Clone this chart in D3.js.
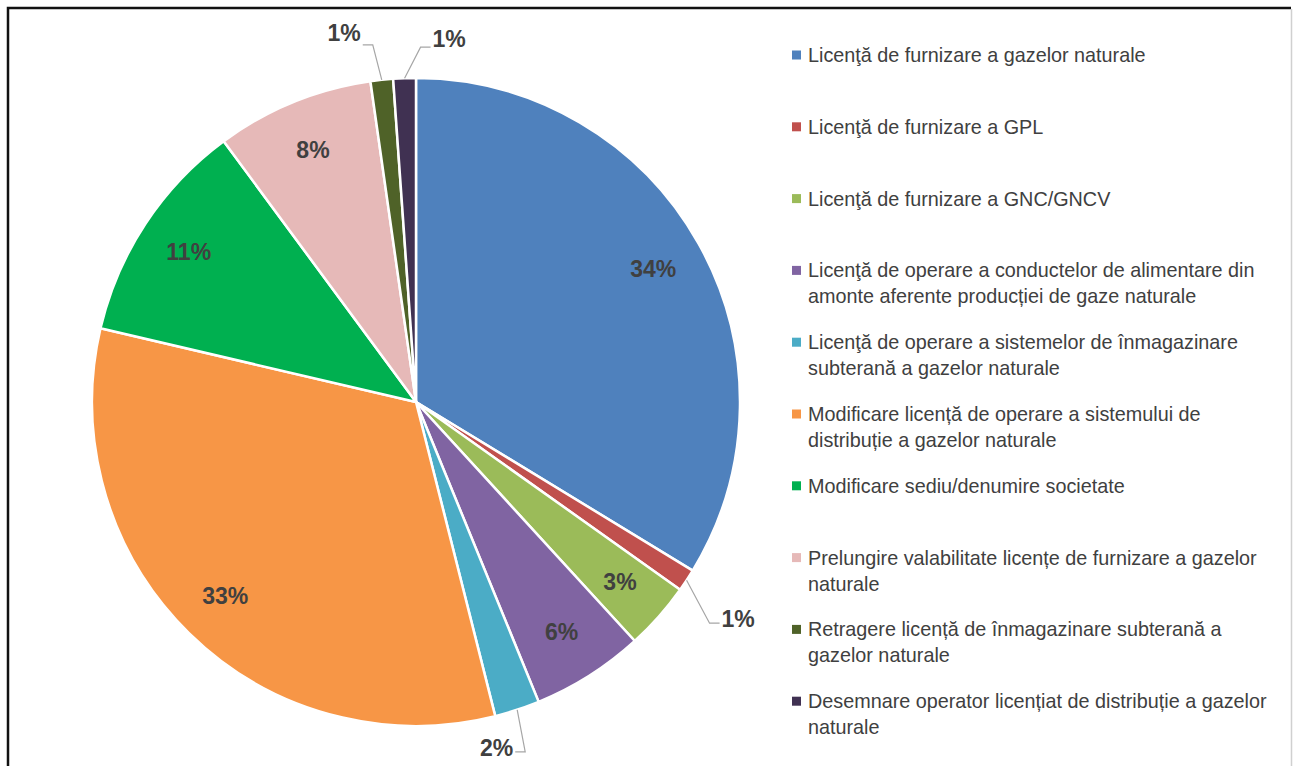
<!DOCTYPE html>
<html>
<head>
<meta charset="utf-8">
<script src="https://cdn.jsdelivr.net/npm/d3@7"></script>
<style>
    body { margin: 0; background: #ffffff; }
    #chart { width: 1293px; height: 766px; }
</style>
</head>
<body>
<div id="chart"></div>
<script>

// data
var categories = [
    "Licenţă de furnizare a gazelor naturale",
    "Licenţă de furnizare a GPL",
    "Licenţă de furnizare a GNC/GNCV",
    "Licenţă de operare a conductelor  de alimentare din\namonte aferente producției  de gaze naturale",
    "Licenţă de operare a sistemelor de înmagazinare\nsubterană a gazelor naturale",
    "Modificare licență de operare a sistemului de\ndistribuție a gazelor naturale",
    "Modificare sediu/denumire societate",
    "Prelungire valabilitate licențe de furnizare a gazelor\nnaturale",
    "Retragere licență de înmagazinare subterană a\ngazelor naturale",
    "Desemnare operator licențiat de distribuție a gazelor\nnaturale"
];
var counts = [30, 1, 3, 5, 2, 29, 10, 7, 1, 1];
var colors = ["#4F81BD", "#C0504D", "#9BBB59", "#8064A2", "#4BACC6",
              "#F79646", "#00B050", "#E6B9B8", "#4F6228", "#403152"];

// labels drawn outside with a leader line: [elbow dx, elbow dy, tail dx, text dy]
var outside = {
    1: [23, 43, 10, -4],
    4: [8, 42, -10, -4],
    8: [-9, -35, -10, -12],
    9: [16, -31, 10, -8]
};

function d3PieChart(value) {

    d3.select(value.id).html("");

    var svg = d3.select(value.id)
        .append("svg")
        .attr("width", value.width)
        .attr("height", value.height);

    // frame
    svg.append("path")
        .attr("d", "M8,780 L8,8 L1291,8")
        .attr("fill", "none")
        .attr("stroke", "#111")
        .attr("stroke-width", 2.5);
    svg.append("line")
        .attr("x1", 1291.5).attr("y1", 9)
        .attr("x2", 1291.5).attr("y2", 780)
        .attr("stroke", "#d0d0d0")
        .attr("stroke-width", 1.5);

    var total = d3.sum(value.values);

    var pie = d3.pie()
        .sort(null)
        .value(function (d) { return d; });

    var arcs = pie(value.values);

    var arc = d3.arc()
        .innerRadius(0)
        .outerRadius(value.radius);

    var labelArc = d3.arc()
        .innerRadius(value.radius * 0.84)
        .outerRadius(value.radius * 0.84);

    var edgeArc = d3.arc()
        .innerRadius(value.radius)
        .outerRadius(value.radius);

    var g = svg.append("g")
        .attr("transform", "translate(" + value.cx + "," + value.cy + ")");

    g.selectAll(".slice")
        .data(arcs)
        .enter()
        .append("path")
        .attr("class", "slice")
        .attr("d", arc)
        .attr("fill", function (d, i) { return value.colors[i]; })
        .attr("stroke", "#ffffff")
        .attr("stroke-width", 2.5)
        .attr("stroke-linejoin", "round");

    var pct = function (d) { return Math.round(d.value / total * 100) + "%"; };

    // inside labels
    g.selectAll(".in-label")
        .data(arcs.filter(function (d) { return !(d.index in value.outside); }))
        .enter()
        .append("text")
        .attr("class", "in-label")
        .attr("transform", function (d) { return "translate(" + labelArc.centroid(d) + ")"; })
        .attr("text-anchor", "middle")
        .attr("dominant-baseline", "central")
        .style("font", value.labelFont)
        .style("fill", "#404040")
        .text(pct);

    // outside labels with leader lines
    arcs.filter(function (d) { return d.index in value.outside; }).forEach(function (d) {
        var o = value.outside[d.index];
        var p0 = edgeArc.centroid(d);
        var p1 = [p0[0] + o[0], p0[1] + o[1]];
        var p2 = [p1[0] + o[2], p1[1]];

        g.append("polyline")
            .attr("points", [p0, p1, p2].join(" "))
            .attr("fill", "none")
            .attr("stroke", "#a6a6a6")
            .attr("stroke-width", 1.2);

        g.append("text")
            .attr("x", p2[0] + (o[2] > 0 ? 2 : -2))
            .attr("y", p2[1] + o[3])
            .attr("text-anchor", o[2] > 0 ? "start" : "end")
            .attr("dominant-baseline", "central")
            .style("font", value.labelFont)
            .style("fill", "#404040")
            .text(pct(d));
    });

    // legend
    var legend = svg.selectAll(".legend")
        .data(value.categories)
        .enter()
        .append("g")
        .attr("class", "legend")
        .attr("transform", function (d, i) {
            return "translate(" + value.legend.x + "," + (value.legend.y + i * value.legend.step) + ")";
        });

    legend.append("rect")
        .attr("x", 0)
        .attr("y", -4.5)
        .attr("width", 9)
        .attr("height", 9)
        .style("fill", function (d, i) { return value.colors[i]; });

    legend.append("text")
        .attr("x", 16)
        .attr("y", 0)
        .style("font", value.legend.font)
        .style("fill", "#404040")
        .each(function (d) {
            var t = d3.select(this);
            d.split("\n").forEach(function (line, j) {
                t.append("tspan")
                    .attr("x", 16)
                    .attr("y", j * value.legend.lineHeight)
                    .attr("dominant-baseline", "central")
                    .text(line);
            });
        });
}

d3PieChart({
    id: "#chart",
    width: 1293,
    height: 766,
    cx: 416,
    cy: 402,
    radius: 324,
    values: counts,
    colors: colors,
    categories: categories,
    outside: outside,
    labelFont: "bold 23px 'Liberation Sans', Arial, sans-serif",
    legend: {
        x: 792,
        y: 55,
        step: 71.8,
        lineHeight: 26,
        font: "19.8px 'Liberation Sans', Arial, sans-serif"
    }
});

</script>
</body>
</html>
